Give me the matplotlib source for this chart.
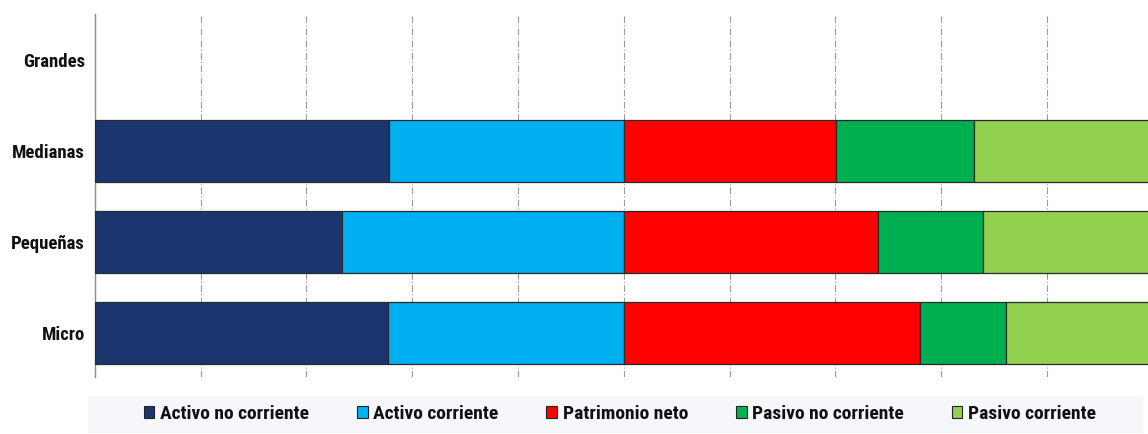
import matplotlib
matplotlib.use('Agg')
import matplotlib.pyplot as plt
from matplotlib import font_manager
from matplotlib.patches import Rectangle, Patch
import numpy as np

# pick a narrow bold family if there is one
avail = set(f.name for f in font_manager.fontManager.ttflist)
fam = 'DejaVu Sans'
for f in ['Roboto Condensed', 'Liberation Sans Narrow', 'DejaVu Sans Condensed']:
    if f in avail:
        fam = f
        break
plt.rcParams['font.family'] = [fam, 'DejaVu Sans']

categorias = ['Grandes', 'Medianas', 'Pequeñas', 'Micro']
series = ['Activo no corriente', 'Activo corriente', 'Patrimonio neto',
          'Pasivo no corriente', 'Pasivo corriente']
activo_no_corriente = [0, 55.7, 46.7, 55.4]
activo_corriente = [0, 44.3, 53.3, 44.6]
patrimonio_neto = [0, 40.1, 48.0, 56.1]
pasivo_no_corriente = [0, 26.2, 19.9, 16.1]
pasivo_corriente = [0, 33.7, 32.1, 27.8]
colores = ['#1b366f', '#00b0f0', '#ff0000', '#00b050', '#92d050']

valores = [activo_no_corriente, activo_corriente, patrimonio_neto,
           pasivo_no_corriente, pasivo_corriente]

fig = plt.figure(figsize=(11.48, 4.34), dpi=100)
ax = fig.add_axes([0.0825, 0.131, 0.9216, 0.836])

y = np.arange(len(categorias))
left = np.zeros(len(categorias))
for vals, col, name in zip(valores, colores, series):
    vals = np.array(vals, dtype=float)
    m = vals > 0  # Grandes sin datos
    ax.barh(y[m], vals[m], left=left[m], height=0.68, color=col,
            edgecolor='#2a2a2a', linewidth=0.9, label=name, zorder=3)
    left += vals

ax.set_xlim(0, 200)
ax.set_ylim(3.48, -0.5)
ax.set_xticks(np.arange(20, 200, 20))
ax.set_xticklabels([])
ax.set_yticks(y)
ax.set_yticklabels(categorias, fontsize=13.5, fontweight='bold', color='#111111')
ax.tick_params(length=0, pad=7)
ax.grid(axis='x', color='#9a9a9a', linestyle=(0, (6, 2, 1, 2)), linewidth=0.8)
ax.grid(axis='y', visible=False)
ax.set_axisbelow(True)
for s in ['top', 'right', 'bottom']:
    ax.spines[s].set_visible(False)
ax.spines['left'].set_color('#8c8c8c')
ax.spines['left'].set_linewidth(1.0)

# fondo de la leyenda
fig.patches.append(Rectangle((88 / 1148, 1 / 434), (1143 - 88) / 1148, 37 / 434,
                             transform=fig.transFigure, facecolor='#f5f7fb',
                             edgecolor='none', zorder=0))
handles = [Patch(facecolor=c, edgecolor='#222222', linewidth=0.8) for c in colores]
leg = fig.legend(handles, series, loc='center', bbox_to_anchor=(620 / 1148, 20 / 434),
                 ncol=5, frameon=False, handlelength=0.55, handleheight=0.55,
                 handletextpad=0.3, columnspacing=2.45,
                 prop={'size': 14, 'weight': 'bold'})
for t in leg.get_texts():
    t.set_color('#111111')

fig.savefig('out.png', dpi=100)
